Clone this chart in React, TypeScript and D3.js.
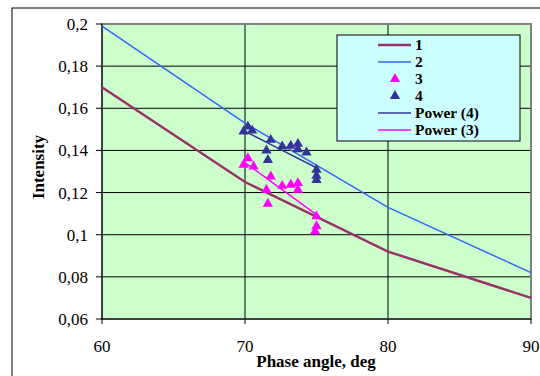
import React from 'react';
import * as d3 from 'd3';

// Curve 1 and 2 (computed curves)
const angles = [60, 70, 80, 90];
const curve1 = [0.17, 0.125, 0.092, 0.07];
const curve2 = [0.199, 0.153, 0.113, 0.082];

// Measured points, series 3 (magenta) and 4 (navy)
const s3x = [69.9, 70.2, 70.6, 71.8, 71.5, 71.6, 72.6, 73.2, 73.7, 73.7, 75.0, 75.0, 74.9];
const s3y = [0.1332, 0.1363, 0.1324, 0.1276, 0.1213, 0.1147, 0.1232, 0.1237, 0.1245, 0.1213, 0.1087, 0.104, 0.1016];
const s4x = [69.9, 70.2, 70.5, 71.8, 71.5, 71.6, 72.6, 73.2, 73.7, 73.7, 74.3, 75.0, 75.0, 75.0];
const s4y = [0.149, 0.1513, 0.1494, 0.145, 0.14, 0.1355, 0.1419, 0.1422, 0.1431, 0.1406, 0.139, 0.1308, 0.128, 0.126];

// Power trendlines
const trendX = [69.9, 72.5, 75.0];
const power4 = [0.1494, 0.1404, 0.1318];
const power3 = [0.1347, 0.1219, 0.1095];

const xTicks = [60, 70, 80, 90];
const yTicks = [0.06, 0.08, 0.1, 0.12, 0.14, 0.16, 0.18, 0.2];

const legendItems = [
  { label: '1', kind: 'line', color: '#993366', width: 2.5 },
  { label: '2', kind: 'line', color: '#3366ff', width: 1.5 },
  { label: '3', kind: 'tri', color: '#ff00ff', width: 0 },
  { label: '4', kind: 'tri', color: '#333399', width: 0 },
  { label: 'Power (4)', kind: 'line', color: '#333399', width: 1.5 },
  { label: 'Power (3)', kind: 'line', color: '#ff00ff', width: 1.5 },
];

const W = 540;
const H = 376;
const plot = { left: 102, right: 531, top: 24, bottom: 319 };
const serif = { fontFamily: 'Liberation Serif' };

export default function App() {
  const x = d3.scaleLinear().domain([60, 90]).range([plot.left, plot.right]);
  const y = d3.scaleLinear().domain([0.06, 0.2]).range([plot.bottom, plot.top]);

  const line = d3.line<[number, number]>()
    .x(d => x(d[0]))
    .y(d => y(d[1]));

  const tri = d3.symbol().type(d3.symbolTriangle).size(46)() || '';

  const pts = (xs: number[], ys: number[]) => xs.map((v, i) => [v, ys[i]] as [number, number]);

  return (
    <svg width={W} height={H} style={{ position: 'absolute', left: 0, top: 0, background: '#fff' }}>
      {/* outer chart frame */}
      <rect x={12} y={8} width={540} height={400} fill="#fff" stroke="#000" strokeWidth={1} />

      {/* plot area */}
      <rect x={plot.left} y={plot.top} width={plot.right - plot.left} height={plot.bottom - plot.top} fill="#ccffcc" />

      {/* gridlines */}
      {yTicks.slice(1, -1).map(t => (
        <line key={'gy' + t} x1={plot.left} x2={plot.right} y1={y(t)} y2={y(t)} stroke="#000" strokeWidth={1} />
      ))}
      {xTicks.slice(1, -1).map(t => (
        <line key={'gx' + t} x1={x(t)} x2={x(t)} y1={plot.top} y2={plot.bottom} stroke="#000" strokeWidth={1} />
      ))}

      {/* plot border */}
      <rect x={plot.left} y={plot.top} width={plot.right - plot.left} height={plot.bottom - plot.top} fill="none" stroke="#808080" strokeWidth={2} />

      {/* axes */}
      <line x1={plot.left} x2={plot.left} y1={plot.top} y2={plot.bottom} stroke="#000" strokeWidth={1} />
      <line x1={plot.left} x2={plot.right} y1={plot.bottom} y2={plot.bottom} stroke="#000" strokeWidth={1} />
      {yTicks.map(t => (
        <g key={'ty' + t}>
          <line x1={plot.left - 6} x2={plot.left} y1={y(t)} y2={y(t)} stroke="#000" />
          <text x={88} y={y(t)} dy="0.35em" textAnchor="end" style={serif} fontSize={17}>
            {String(t).replace('.', ',')}
          </text>
        </g>
      ))}
      {xTicks.map(t => (
        <g key={'tx' + t}>
          <line x1={x(t)} x2={x(t)} y1={plot.bottom} y2={plot.bottom + 5} stroke="#000" />
          <text x={x(t)} y={352} textAnchor="middle" style={serif} fontSize={17}>
            {t}
          </text>
        </g>
      ))}

      {/* curves */}
      <path d={line(pts(angles, curve2)) || ''} fill="none" stroke="#3366ff" strokeWidth={1.5} />
      <path d={line(pts(angles, curve1)) || ''} fill="none" stroke="#993366" strokeWidth={2.5} />

      {/* measured points */}
      {pts(s4x, s4y).map((d, i) => (
        <path key={'p4' + i} d={tri} transform={`translate(${x(d[0])},${y(d[1])})`} fill="#333399" />
      ))}
      {pts(s3x, s3y).map((d, i) => (
        <path key={'p3' + i} d={tri} transform={`translate(${x(d[0])},${y(d[1])})`} fill="#ff00ff" />
      ))}

      {/* trendlines */}
      <path d={line(pts(trendX, power4)) || ''} fill="none" stroke="#333399" strokeWidth={1.5} />
      <path d={line(pts(trendX, power3)) || ''} fill="none" stroke="#ff00ff" strokeWidth={1.5} />

      {/* axis titles */}
      <text x={316} y={367} textAnchor="middle" style={serif} fontSize={17} fontWeight="bold">
        Phase angle, deg
      </text>
      <text transform="translate(44,167) rotate(-90)" textAnchor="middle" style={serif} fontSize={17} fontWeight="bold">
        Intensity
      </text>

      {/* legend */}
      <rect x={337} y={35} width={183} height={106} fill="#ccffff" stroke="#000" strokeWidth={1} />
      {legendItems.map((item, i) => {
        const cy = 45 + i * 17;
        return (
          <g key={item.label}>
            {item.kind === 'line' ? (
              <line x1={378} x2={411} y1={cy} y2={cy} stroke={item.color} strokeWidth={item.width} />
            ) : (
              <path d={tri} transform={`translate(395,${cy})`} fill={item.color} />
            )}
            <text x={415} y={cy} dy="0.35em" style={serif} fontSize={15.5} fontWeight="bold">
              {item.label}
            </text>
          </g>
        );
      })}
    </svg>
  );
}
